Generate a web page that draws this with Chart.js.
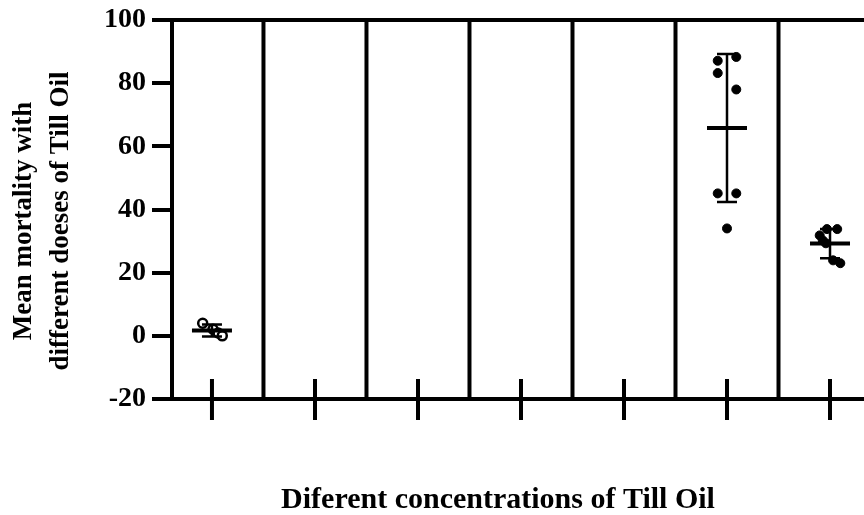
<!DOCTYPE html>
<html>
<head>
<meta charset="utf-8">
<script src="https://cdn.jsdelivr.net/npm/chart.js@4.4.1/dist/chart.umd.min.js"></script>
<style>
  body { margin: 0; background: #fff; }
</style>
</head>
<body>
<canvas id="myChart" width="864" height="515"></canvas>
<script>
// groups along the x axis (no labels are shown on the original)
var groups = ['G1', 'G2', 'G3', 'G4', 'G5', 'G6', 'G7'];

// individual mortality values per group
var mortality = [
	[4.0, 2.1, 0.9, 0.0],
	[],
	[],
	[],
	[],
	[87.1, 88.3, 83.2, 78.0, 45.1, 45.1, 34.0],
	[33.8, 33.8, 31.8, 30.2, 29.3, 23.9, 23.0]
];

// mean and SD per group
var means = [1.7, null, null, null, null, 65.8, 29.2];
var sds = [1.9, null, null, null, null, 23.4, 4.6];

var yMin = -20, yMax = 100, yStep = 20;

// horizontal spread of the dots inside a group (category units)
var spread = [
	[-0.09, 0.01, 0.06, 0.10],
	[], [], [], [],
	[-0.09, 0.09, -0.09, 0.09, -0.09, 0.09, 0],
	[-0.03, 0.07, -0.10, -0.07, -0.04, 0.03, 0.10]
];

var serif = "'Liberation Serif', 'Times New Roman', serif";

var points = [];
for (var i in mortality) {
	for (var j in mortality[i]) {
		points.push({ x: Number(i) + 1 + spread[i][j], y: mortality[i][j], open: i == 0 });
	}
}

var frame = {
	id: 'frame',
	beforeDatasetsDraw: function(chart) {
		var c = chart.ctx, a = chart.chartArea;
		var xs = chart.scales.x, ys = chart.scales.y;
		c.save();
		c.strokeStyle = '#000';
		c.lineWidth = 4;
		// top line
		var top = ys.getPixelForValue(yMax);
		c.beginPath();
		c.moveTo(a.left - 20, top);
		c.lineTo(chart.width, top);
		c.stroke();
		// group separators and crossing ticks
		var bottom = ys.getPixelForValue(yMin);
		for (var k = 0; k < groups.length; k++) {
			if (k < groups.length - 1) {
				var bx = xs.getPixelForValue(k + 1.5);
				c.beginPath();
				c.moveTo(bx, top);
				c.lineTo(bx, bottom);
				c.stroke();
			}
			var tx = xs.getPixelForValue(k + 1);
			c.beginPath();
			c.moveTo(tx, bottom - 20);
			c.lineTo(tx, bottom + 21);
			c.stroke();
		}
		c.restore();
	},
	afterDatasetsDraw: function(chart) {
		var c = chart.ctx;
		var xs = chart.scales.x, ys = chart.scales.y;
		c.save();
		c.strokeStyle = '#000';
		for (var k = 0; k < groups.length; k++) {
			if (means[k] === null) continue;
			var cx = xs.getPixelForValue(k + 1);
			var m = ys.getPixelForValue(means[k]);
			var hi = ys.getPixelForValue(means[k] + sds[k]);
			var lo = ys.getPixelForValue(means[k] - sds[k]);
			c.lineWidth = 2.5;
			c.beginPath();
			c.moveTo(cx, hi); c.lineTo(cx, lo);
			c.moveTo(cx - 10, hi); c.lineTo(cx + 10, hi);
			c.moveTo(cx - 10, lo); c.lineTo(cx + 10, lo);
			c.stroke();
			c.lineWidth = 4;
			c.beginPath();
			c.moveTo(cx - 20, m); c.lineTo(cx + 20, m);
			c.stroke();
		}
		c.restore();
	},
	afterDraw: function(chart) {
		var c = chart.ctx;
		c.save();
		c.fillStyle = '#000';
		c.textAlign = 'center';
		c.textBaseline = 'middle';
		c.font = 'bold 30px ' + serif;
		c.fillText('Diferent concentrations of Till Oil', 498, 500);
		c.translate(0, 221);
		c.rotate(-Math.PI / 2);
		c.font = 'bold 27px ' + serif;
		c.fillText('Mean mortality with', 0, 24);
		c.fillText('different doeses of Till Oil', 0, 61);
		c.restore();
	}
};

var ctx = document.getElementById('myChart');

var scatter = new Chart(ctx, {
	type: 'scatter',
	data: {
		datasets: [{
			label: 'Mortality',
			data: points,
			pointRadius: 4.5,
			pointHoverRadius: 4.5,
			pointBorderWidth: function(p) { return p.raw && p.raw.open ? 2.5 : 1; },
			pointBackgroundColor: function(p) { return p.raw && p.raw.open ? '#fff' : '#000'; },
			pointBorderColor: '#000'
		}]
	},
	options: {
		responsive: false,
		animation: false,
		devicePixelRatio: 1,
		layout: { autoPadding: false, padding: { top: 19, right: 0, left: 0, bottom: 0 } },
		plugins: {
			legend: { display: false },
			tooltip: { enabled: false }
		},
		scales: {
			x: {
				type: 'linear',
				min: 0.612,
				max: 7.33,
				ticks: { display: false },
				grid: { display: false },
				border: { display: true, color: '#000', width: 4 },
				afterFit: function(s) { s.height = 116; }
			},
			y: {
				min: yMin,
				max: yMax,
				ticks: {
					stepSize: yStep,
					color: '#000',
					padding: 6,
					font: { family: serif, weight: 'bold', size: 28, lineHeight: 1 }
				},
				grid: {
					drawOnChartArea: false,
					drawTicks: true,
					tickLength: 20,
					lineWidth: 4,
					color: '#000'
				},
				border: { display: true, color: '#000', width: 4 },
				afterFit: function(s) { s.width = 172; }
			}
		}
	},
	plugins: [frame]
});
</script>
</body>
</html>
